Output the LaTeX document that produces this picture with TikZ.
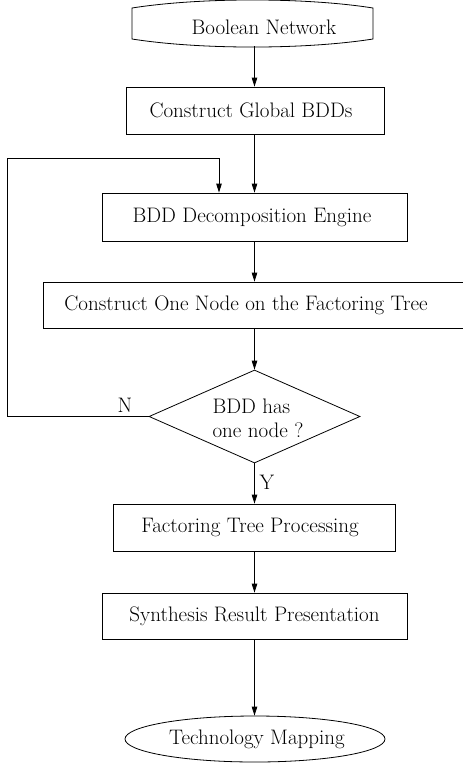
\documentclass[tikz,border=0pt]{standalone}
\usetikzlibrary{arrows.meta,shapes.geometric}
\begin{document}
\begin{tikzpicture}[x=1pt,y=-1pt,
  every node/.style={font=\fontsize{21}{24}\selectfont},
  box/.style={draw,line width=0.8pt,rectangle,inner sep=0pt},
  arr/.style={line width=0.8pt,-{Triangle[length=9pt,width=5.5pt]}},
  ln/.style={line width=0.8pt}]
\useasboundingbox (0,0) rectangle (463,763);
% top shape
\node[inner sep=0pt,minimum width=241pt,minimum height=46pt] (bn) at (252.5,23) {};
\draw[ln] (132,8) .. controls (200,-2.7) and (305,-2.7) .. (373,8) -- (373,39)
  .. controls (305,49.7) and (200,49.7) .. (132,39) -- cycle;
\node[inner sep=0pt] (bnt) at (264,27) {Boolean Network};
\node[box,minimum width=258pt,minimum height=47pt] (cg) at (255,110.5) {};
\node[inner sep=0pt] (cgt) at (251,110.5) {Construct Global BDDs};
\node[box,minimum width=305pt,minimum height=48pt] (de) at (254.5,217) {};
\node[inner sep=0pt] (det) at (252,217) {BDD Decomposition Engine};
\node[box,minimum width=427pt,minimum height=46pt] (cn) at (256.5,305) {};
\node[inner sep=0pt] (cnt) at (246,305) {Construct One Node on the Factoring Tree};
\node[draw,ln,diamond,aspect=2.27,inner sep=0pt,minimum width=211pt,minimum height=93pt] (dm) at (254.5,416.5) {};
\node[align=left,inner sep=0pt] (dt) at (258,418) {BDD has\\one node ?};
\node[box,minimum width=282pt,minimum height=47pt] (ft) at (254,527.5) {};
\node[inner sep=0pt] (ftt) at (250,527.5) {Factoring Tree Processing};
\node[box,minimum width=305pt,minimum height=46pt] (sr) at (254.5,616) {Synthesis Result Presentation};
\node[draw,ln,ellipse,inner sep=0pt,minimum width=260pt,minimum height=46pt] (tm) at (255,739) {};
\node[inner sep=0pt] (tmt) at (257,739) {Technology Mapping};
\coordinate (s0) at (254.5,46);
\coordinate (c1) at (7,416.5);
\coordinate (c2) at (7,158);
\coordinate (c3) at (219,158);
\draw[arr] (s0) -- (s0 |- cg.north);
\draw[arr] (s0 |- cg.south) -- (s0 |- de.north);
\draw[arr] (s0 |- de.south) -- (s0 |- cn.north);
\draw[arr] (s0 |- cn.south) -- (dm.north);
\draw[arr] (dm.south) -- (dm.south |- ft.north);
\node (y) at (267,482) {Y};
\draw[arr] (s0 |- ft.south) -- (s0 |- sr.north);
\draw[arr] (s0 |- sr.south) -- (s0 |- tm.north);
\draw[arr] (dm.west) -- (c1) -- (c2) -- (c3) -- (c3 |- de.north);
\node (n) at (125,405) {N};
\end{tikzpicture}
\end{document}
